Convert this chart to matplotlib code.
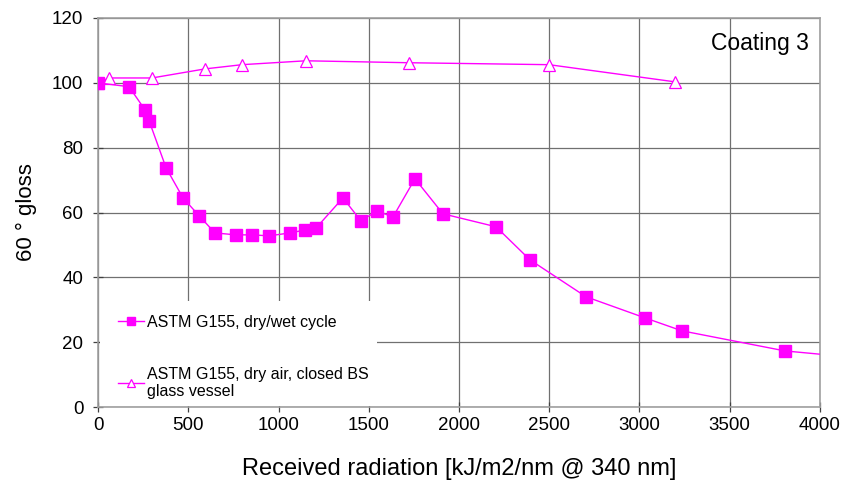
import matplotlib
matplotlib.use("Agg")
import matplotlib.pyplot as plt
from matplotlib.patches import Rectangle

plt.rcParams['font.family'] = ['Liberation Sans', 'DejaVu Sans']

# Series 1: ASTM G155, dry/wet cycle
wet_x = [0, 172, 260, 283, 377, 471, 560, 648, 765, 853, 947, 1064, 1147, 1208,
         1357, 1457, 1546, 1634, 1756, 1911, 2205, 2393, 2704, 3030, 3235, 3806, 4400]
wet_y = [100, 98.8, 91.7, 88.3, 73.8, 64.5, 59.0, 53.7, 53.1, 53.1, 52.8, 53.7, 54.6, 55.2,
         64.5, 57.4, 60.5, 58.6, 70.4, 59.6, 55.6, 45.4, 34.0, 27.5, 23.5, 17.3, 14.2]

# Series 2: ASTM G155, dry air, closed BS glass vessel
dry_x = [0, 61, 299, 593, 798, 1152, 1723, 2499, 3197]
dry_y = [100, 101.5, 101.5, 104.3, 105.6, 106.8, 106.2, 105.6, 100.3]

label_wet = "ASTM G155, dry/wet cycle"
label_dry = "ASTM G155, dry air, closed BS\nglass vessel"
x_ticks = [0, 500, 1000, 1500, 2000, 2500, 3000, 3500, 4000]
y_ticks = [0, 20, 40, 60, 80, 100, 120]

MAG = '#FF00FF'

fig = plt.figure(figsize=(8.42, 4.84), dpi=100)
ax = fig.add_axes([98/842, 1-407/484, (820-98)/842, (407-18)/484])

ax.plot(dry_x, dry_y, color=MAG, lw=1.0, marker='^', ms=9, mfc='white',
        mec=MAG, mew=0.9, label=label_dry, zorder=3, clip_on=True)
ax.plot(wet_x, wet_y, color=MAG, lw=1.0, marker='s', ms=9, mfc=MAG,
        mec=MAG, label=label_wet, zorder=4, clip_on=True)

ax.set_xlim(0, 4000)
ax.set_ylim(0, 120)
ax.set_xticks(x_ticks)
ax.set_yticks(y_ticks)
ax.grid(True, color='#707070', lw=0.9)
ax.set_axisbelow(True)
for s in ax.spines.values():
    s.set_color('#a0a0a0')
    s.set_linewidth(1.2)
ax.tick_params(direction='inout', length=7, width=0.9, color='#404040',
               labelsize=13.5)
ax.tick_params(axis='x', pad=4)
ax.tick_params(axis='y', pad=7)

ax.set_xlabel("Received radiation [kJ/m2/nm @ 340 nm]", fontsize=17, labelpad=17)
ax.set_ylabel("60 ° gloss", fontsize=16, labelpad=11)

ax.text(0.985, 0.965, "Coating 3", transform=ax.transAxes, ha='right', va='top',
        fontsize=16.5)

# white backdrop of the legend area
ax.add_patch(Rectangle((0.003, 0.003), (375-98)/722, (407-302)/389,
                       transform=ax.transAxes, facecolor='white',
                       edgecolor='none', zorder=2))

h, l = ax.get_legend_handles_labels()
leg = ax.legend(h[::-1], l[::-1], loc='upper left',
                bbox_to_anchor=((118-98)/722, (407-315)/389),
                fontsize=11.5, frameon=False, handlelength=1.6,
                handletextpad=0.2, labelspacing=2.3, borderpad=0,
                borderaxespad=0, markerscale=0.6)
for t in leg.get_texts():
    t.set_linespacing(1.2)
leg.set_zorder(5)

fig.savefig("out.png", dpi=100)
